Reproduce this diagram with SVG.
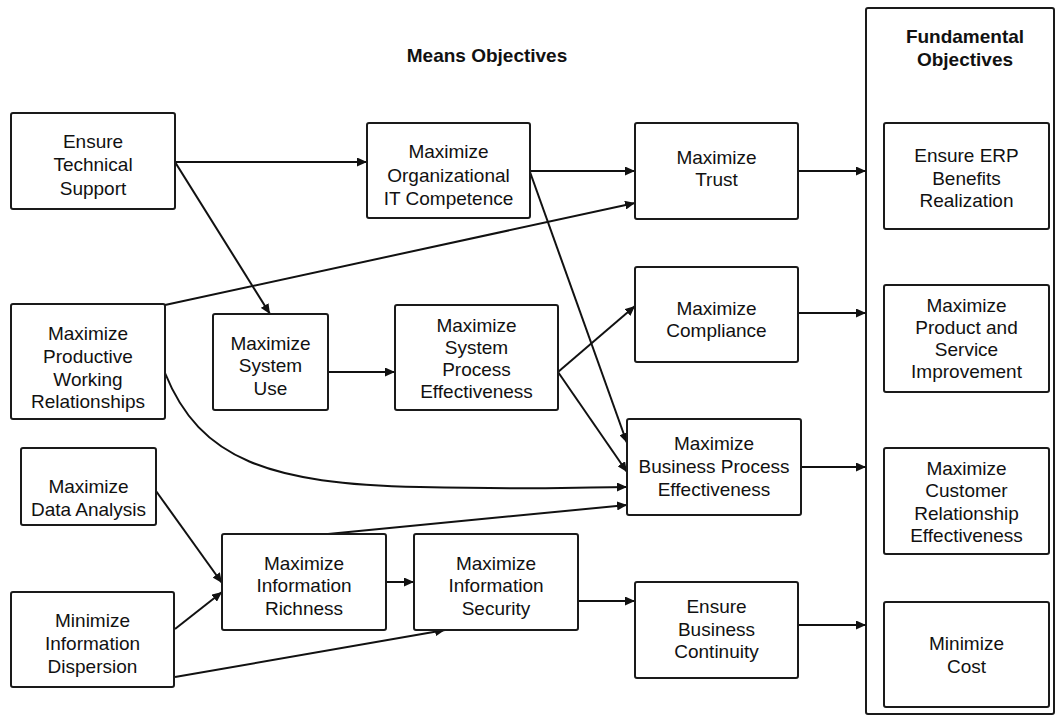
<svg xmlns="http://www.w3.org/2000/svg" width="1057" height="716" viewBox="0 0 1057 716">
<defs>
<style>
.box{fill:#fff;stroke:#1a1a1a;stroke-width:2}
.t{font-family:"Liberation Sans",Arial,sans-serif;font-size:19px;fill:#111;text-anchor:middle}
.h{font-family:"Liberation Sans",Arial,sans-serif;font-size:19px;font-weight:bold;fill:#111;text-anchor:middle}
.c{fill:none;stroke:#111;stroke-width:2}
</style>
<marker id="ah" markerUnits="userSpaceOnUse" markerWidth="10" markerHeight="9" refX="10" refY="4.5" orient="auto">
<path d="M0,0 L10,4.5 L0,9 z" fill="#111"/>
</marker>
</defs>
<rect width="1057" height="716" fill="#fff"/>
<text class="h" x="487" y="62">Means Objectives</text>
<g id="fundamental">
<rect class="box" x="866" y="8" width="188" height="706" rx="2"/>
<text class="h" x="965" y="43">Fundamental</text>
<text class="h" x="965" y="66">Objectives</text>
</g>
<g id="connectors">
<path class="c" marker-end="url(#ah)" d="M175,162 L367,162"/>
<path class="c" marker-end="url(#ah)" d="M175,162 L270,314"/>
<path class="c" marker-end="url(#ah)" d="M530,171 L635,171"/>
<path class="c" marker-end="url(#ah)" d="M530,172 L627,443"/>
<path class="c" marker-end="url(#ah)" d="M558,372 L635,306"/>
<path class="c" marker-end="url(#ah)" d="M558,372 L627,472"/>
<path class="c" marker-end="url(#ah)" d="M328,372 L395,372"/>
<path class="c" marker-end="url(#ah)" d="M165,305 L635,203"/>
<path class="c" marker-end="url(#ah)" d="M165,373 C200,460 270,484 420,487 S580,487 627,487"/>
<path class="c" marker-end="url(#ah)" d="M328,534 L627,505"/>
<path class="c" marker-end="url(#ah)" d="M156,491 L222,583"/>
<path class="c" marker-end="url(#ah)" d="M175,629 L222,592"/>
<path class="c" marker-end="url(#ah)" d="M175,677 L445,630"/>
<path class="c" marker-end="url(#ah)" d="M386,582 L414,582"/>
<path class="c" marker-end="url(#ah)" d="M578,601 L635,601"/>
<path class="c" marker-end="url(#ah)" d="M798,171 L866,171"/>
<path class="c" marker-end="url(#ah)" d="M798,313 L866,313"/>
<path class="c" marker-end="url(#ah)" d="M801,467 L866,467"/>
<path class="c" marker-end="url(#ah)" d="M798,625 L866,625"/>
</g>
<g id="tech"><rect class="box" x="11" y="113" width="164" height="96" rx="2"/>
<text class="t" x="93" y="148">Ensure</text><text class="t" x="93" y="171">Technical</text><text class="t" x="93" y="195">Support</text></g>
<g id="orgit"><rect class="box" x="367" y="123" width="163" height="95" rx="2"/>
<text class="t" x="448.5" y="158">Maximize</text><text class="t" x="448.5" y="182">Organizational</text><text class="t" x="448.5" y="205">IT Competence</text></g>
<g id="trust"><rect class="box" x="635" y="123" width="163" height="96" rx="2"/>
<text class="t" x="716.5" y="164">Maximize</text><text class="t" x="716.5" y="186">Trust</text></g>
<g id="compliance"><rect class="box" x="635" y="267" width="163" height="95" rx="2"/>
<text class="t" x="716.5" y="315">Maximize</text><text class="t" x="716.5" y="337">Compliance</text></g>
<g id="sysuse"><rect class="box" x="213" y="314" width="115" height="96" rx="2"/>
<text class="t" x="270.5" y="350">Maximize</text><text class="t" x="270.5" y="372">System</text><text class="t" x="270.5" y="395">Use</text></g>
<g id="sysproc"><rect class="box" x="395" y="305" width="163" height="105" rx="2"/>
<text class="t" x="476.5" y="332">Maximize</text><text class="t" x="476.5" y="354">System</text><text class="t" x="476.5" y="376">Process</text><text class="t" x="476.5" y="398">Effectiveness</text></g>
<g id="prodwork"><rect class="box" x="11" y="304" width="154" height="115" rx="2"/>
<text class="t" x="88" y="340">Maximize</text><text class="t" x="88" y="363">Productive</text><text class="t" x="88" y="386">Working</text><text class="t" x="88" y="408">Relationships</text></g>
<g id="dataan"><rect class="box" x="21" y="448" width="135" height="77" rx="2"/>
<text class="t" x="88.5" y="493">Maximize</text><text class="t" x="88.5" y="516">Data Analysis</text></g>
<g id="dispersion"><rect class="box" x="11" y="592" width="163" height="95" rx="2"/>
<text class="t" x="92.5" y="627">Minimize</text><text class="t" x="92.5" y="650">Information</text><text class="t" x="92.5" y="673">Dispersion</text></g>
<g id="richness"><rect class="box" x="222" y="534" width="164" height="96" rx="2"/>
<text class="t" x="304" y="570">Maximize</text><text class="t" x="304" y="592">Information</text><text class="t" x="304" y="615">Richness</text></g>
<g id="security"><rect class="box" x="414" y="534" width="164" height="96" rx="2"/>
<text class="t" x="496" y="570">Maximize</text><text class="t" x="496" y="592">Information</text><text class="t" x="496" y="615">Security</text></g>
<g id="bpe"><rect class="box" x="627" y="419" width="174" height="96" rx="2"/>
<text class="t" x="714" y="450">Maximize</text><text class="t" x="714" y="473">Business Process</text><text class="t" x="714" y="496">Effectiveness</text></g>
<g id="continuity"><rect class="box" x="635" y="582" width="163" height="96" rx="2"/>
<text class="t" x="716.5" y="613">Ensure</text><text class="t" x="716.5" y="636">Business</text><text class="t" x="716.5" y="658">Continuity</text></g>
<g id="erp"><rect class="box" x="884" y="123" width="165" height="106" rx="2"/>
<text class="t" x="966.5" y="162">Ensure ERP</text><text class="t" x="966.5" y="185">Benefits</text><text class="t" x="966.5" y="207">Realization</text></g>
<g id="product"><rect class="box" x="884" y="285" width="165" height="107" rx="2"/>
<text class="t" x="966.5" y="312">Maximize</text><text class="t" x="966.5" y="334">Product and</text><text class="t" x="966.5" y="356">Service</text><text class="t" x="966.5" y="378">Improvement</text></g>
<g id="customer"><rect class="box" x="884" y="448" width="165" height="106" rx="2"/>
<text class="t" x="966.5" y="475">Maximize</text><text class="t" x="966.5" y="497">Customer</text><text class="t" x="966.5" y="520">Relationship</text><text class="t" x="966.5" y="542">Effectiveness</text></g>
<g id="cost"><rect class="box" x="884" y="602" width="165" height="105" rx="2"/>
<text class="t" x="966.5" y="650">Minimize</text><text class="t" x="966.5" y="673">Cost</text></g>
</svg>
